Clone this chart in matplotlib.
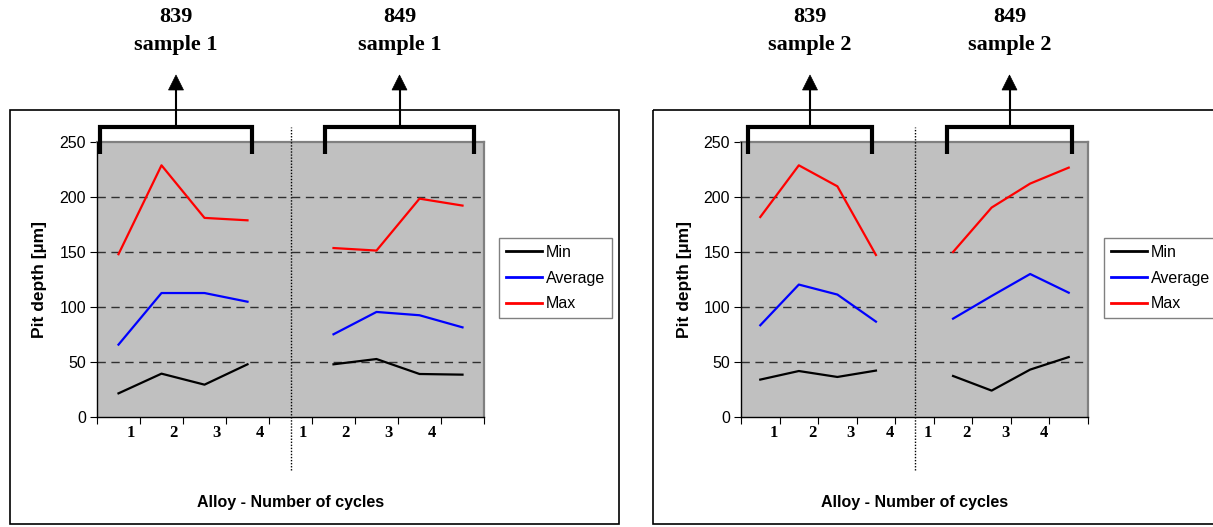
import matplotlib

matplotlib.use("Agg")

import matplotlib.pyplot as plt
import matplotlib.transforms as mtransforms
import numpy as np
from matplotlib.lines import Line2D
from matplotlib.patches import Polygon, Rectangle

W, H, DPI = 1213, 527, 100

SERIES = ["Min", "Average", "Max"]
COLORS = ["#000000", "#0000ff", "#ff0000"]
CYCLE_LABELS = ["1", "2", "3", "4", "1", "2", "3", "4"]
ALLOYS = ["839", "849"]
SAMPLES = ["sample 1", "sample 2"]

# sample 1 (pit depth, µm)
S1_839_MIN = [21.5, 39.4, 29.4, 47.9]
S1_839_AVG = [65.8, 112.7, 112.7, 104.8]
S1_839_MAX = [148.0, 228.8, 181.0, 178.8]
S1_849_MIN = [47.9, 52.7, 39.1, 38.5]
S1_849_AVG = [75.2, 95.5, 92.5, 81.5]
S1_849_MAX = [153.6, 151.3, 198.5, 192.2]

# sample 2
S2_839_MIN = [34.0, 41.8, 36.4, 42.2]
S2_839_AVG = [83.4, 120.4, 111.3, 86.7]
S2_839_MAX = [181.8, 228.8, 209.7, 147.3]
S2_849_MIN = [37.3, 24.0, 43.1, 54.5]
S2_849_AVG = [89.4, 110.0, 130.0, 113.0]
S2_849_MAX = [150.0, 190.4, 212.2, 226.7]

C_PLOT = "#c0c0c0"
C_BORDER = "#808080"
SERIF = ["Liberation Serif", "DejaVu Serif"]
SANS = ["Liberation Sans", "DejaVu Sans"]

plt.rcParams["font.family"] = SANS


def px_axes(fig, x0, x1, ytop, ybot):
    return fig.add_axes([x0 / W, 1 - ybot / H, (x1 - x0) / W, (ybot - ytop) / H])


def draw_panel(ax, g839, g849, label_shift, ylab_x):
    x = np.arange(9)
    for k, color in enumerate(COLORS):
        vals = list(g839[k]) + [np.nan] + list(g849[k])
        ax.plot(x, vals, color=color, lw=1.6, zorder=3)

    ax.set_facecolor(C_PLOT)
    ax.set_xlim(-0.5, 8.5)
    ax.set_ylim(0, 250)
    ax.set_yticks(np.arange(0, 251, 50))
    ax.tick_params(axis="y", labelsize=11.5, length=5, direction="out", pad=3)
    ax.set_xticks(np.arange(-0.5, 8.6, 1.0))
    ax.set_xticklabels([])
    ax.tick_params(axis="x", length=5, direction="out")
    for yv in range(50, 201, 50):
        ax.axhline(yv, color="#303030", lw=1.0, dashes=(6, 4), zorder=1)

    for side in ("top", "right"):
        ax.spines[side].set_color(C_BORDER)
        ax.spines[side].set_linewidth(1.6)
    for side in ("left", "bottom"):
        ax.spines[side].set_color("black")
        ax.spines[side].set_linewidth(1.0)
        ax.spines[side].set_zorder(4)

    # separator between the two alloys
    ax.axvline(4, ymin=-0.193, ymax=1.055, clip_on=False, color="black",
               lw=1.0, ls=(0, (1, 1.2)), zorder=5)

    trans = mtransforms.blended_transform_factory(ax.transData, ax.transAxes)
    for i, lab in enumerate(CYCLE_LABELS):
        ax.text(i + label_shift, -0.058, lab, transform=trans, ha="center", va="center",
                fontsize=12, fontweight="bold", family=SERIF)

    ax.set_ylabel("Pit depth [µm]", fontsize=12.5, fontweight="bold")
    ax.yaxis.set_label_coords(ylab_x, 0.5)
    ax.set_xlabel("Alloy - Number of cycles", fontsize=11.5, fontweight="bold")
    ax.xaxis.set_label_coords(0.5, -0.284)


def add_legend(fig, x, y):
    handles = [Line2D([], [], color=c, lw=2.0) for c in COLORS]
    leg = fig.legend(handles, SERIES, loc="upper left",
                     bbox_to_anchor=(x / W, 1 - y / H), fontsize=11.5,
                     frameon=True, fancybox=False, borderpad=0.42,
                     labelspacing=0.68, handlelength=2.3, handletextpad=0.2,
                     borderaxespad=0.0)
    leg.get_frame().set_edgecolor("#606060")
    leg.get_frame().set_linewidth(1.0)


def bracket(ov, x0, x1, alloy, sample):
    xc = (x0 + x1) / 2
    ov.plot([x0, x0, x1, x1], [154, 127, 127, 154], color="black", lw=3.0,
            solid_joinstyle="miter", solid_capstyle="butt")
    ov.plot([xc, xc], [127, 89], color="black", lw=1.5)
    ov.add_patch(Polygon([(xc - 7.5, 90), (xc + 7.5, 90), (xc, 75)], closed=True,
                         facecolor="black", edgecolor="black", lw=0.5))
    ov.text(xc, 17, alloy, ha="center", va="center", fontsize=16,
            fontweight="bold", family=SERIF)
    ov.text(xc, 45, sample, ha="center", va="center", fontsize=16,
            fontweight="bold", family=SERIF)


def main():
    fig = plt.figure(figsize=(W / DPI, H / DPI), dpi=DPI)
    fig.patch.set_facecolor("white")

    ax1 = px_axes(fig, 97, 484, 142, 417)
    draw_panel(ax1, (S1_839_MIN, S1_839_AVG, S1_839_MAX),
               (S1_849_MIN, S1_849_AVG, S1_849_MAX), 0.28, -0.129)
    ax2 = px_axes(fig, 741, 1088, 142, 417)
    draw_panel(ax2, (S2_839_MIN, S2_839_AVG, S2_839_MAX),
               (S2_849_MIN, S2_849_AVG, S2_849_MAX), 0.35, -0.141)

    add_legend(fig, 499, 238)
    add_legend(fig, 1104, 238)

    ov = fig.add_axes([0, 0, 1, 1], zorder=10)
    ov.set_xlim(0, W)
    ov.set_ylim(H, 0)
    ov.axis("off")
    ov.patch.set_visible(False)

    # chart frames
    ov.add_patch(Rectangle((10, 110), 609, 414, fill=False, lw=1.2, edgecolor="black"))
    ov.add_patch(Rectangle((653, 110), 620, 414, fill=False, lw=1.2, edgecolor="black"))

    bracket(ov, 100, 252, ALLOYS[0], SAMPLES[0])
    bracket(ov, 325, 474, ALLOYS[1], SAMPLES[0])
    bracket(ov, 748, 872, ALLOYS[0], SAMPLES[1])
    bracket(ov, 947, 1072, ALLOYS[1], SAMPLES[1])

    fig.savefig("out.png", dpi=DPI, facecolor="white")
    plt.close(fig)


if __name__ == "__main__":
    main()
